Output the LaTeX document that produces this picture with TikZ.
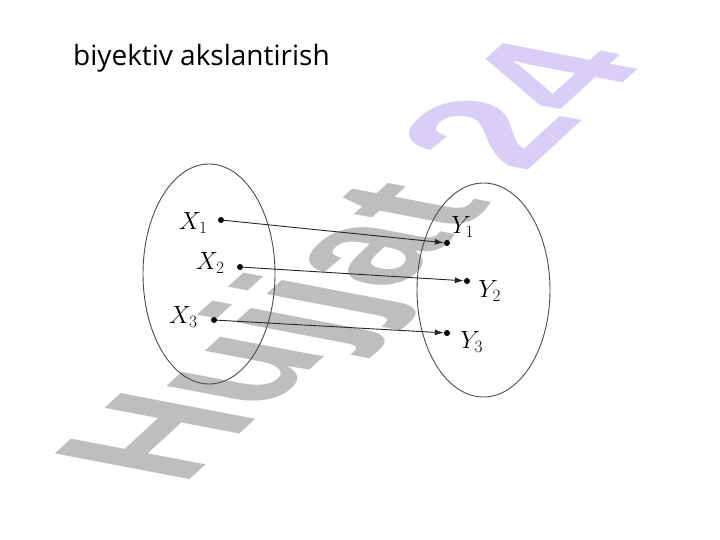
\documentclass[tikz,border=0pt]{standalone}
\usepackage{fontspec}
\setmainfont{Open Sans}
\newfontfamily\wmfont{Liberation Sans}
\usetikzlibrary{arrows.meta,positioning}
\definecolor{wmgray}{RGB}{190,190,190}
\definecolor{wmlilac}{RGB}{216,206,248}
\tikzset{
  elem/.style={circle,fill=black,inner sep=0pt,minimum size=6pt},
  lbl/.style={inner sep=0pt,font=\fontsize{24}{26}\selectfont},
  mapto/.style={draw=black!85,line width=0.9pt,-{Latex[length=9pt,width=6pt]}},
  setline/.style={draw=black!70,line width=0.9pt}
}

\begin{document}
\begin{tikzpicture}[x=1pt,y=-1pt]
  \useasboundingbox (0,0) rectangle (720,540);
  % watermark
  \node[anchor=base west,rotate=42.5,xslant=-0.745,xscale=0.95,inner sep=0pt,font=\wmfont\bfseries\fontsize{160}{160}\selectfont] (wm) at (182,487) {\textcolor{wmgray}{Hujjat} \textcolor{wmlilac}{24}};
  \node[anchor=base west,inner sep=0pt,font=\fontsize{28}{32}\selectfont] (title) at (73,66) {biyektiv akslantirish};

  \draw[setline] (209,274) ellipse [x radius=66,y radius=110];
  \draw[setline] (483.5,290) ellipse [x radius=66.5,y radius=107];

  \node[elem] (x1) at (221,220) {};
  \node[elem] (x2) at (240,267) {};
  \node[elem] (x3) at (214,320) {};
  \node[elem] (y1) at (447,243) {};
  \node[elem] (y2) at (467,281) {};
  \node[elem] (y3) at (447,333) {};

  \node[lbl,left=10pt of x1,yshift=-3pt] (lx1) {$X_1$};
  \node[lbl,left=12pt of x2,yshift=4pt] (lx2) {$X_2$};
  \node[lbl,left=13pt of x3,yshift=3pt] (lx3) {$X_3$};
  \node[lbl,above right=3pt and 2pt of y1] (ly1) {$Y_1$};
  \node[lbl,right=8pt of y2,yshift=-10pt] (ly2) {$Y_2$};
  \node[lbl,right=10pt of y3,yshift=-9pt] (ly3) {$Y_3$};

  \draw[mapto] (x1) -- (y1);
  \draw[mapto] (x2) -- (y2);
  \draw[mapto] (x3) -- (y3);
\end{tikzpicture}
\end{document}
